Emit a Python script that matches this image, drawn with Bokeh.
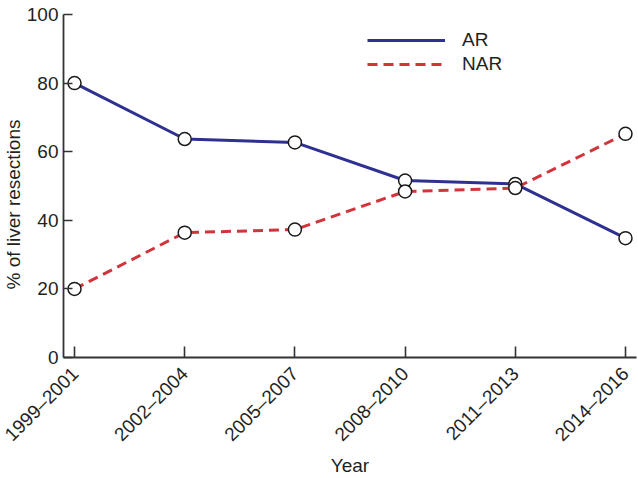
import math
from bokeh.plotting import figure
from bokeh.models import (Range1d, FixedTicker, Legend, LegendItem, Title)
from bokeh.embed import file_html
from bokeh.resources import INLINE

# ---- data ----
periods = ["1999–2001", "2002–2004", "2005–2007", "2008–2010", "2011–2013", "2014–2016"]
ar_values = [80.0, 63.7, 62.7, 51.6, 50.6, 34.8]
nar_values = [20.0, 36.4, 37.3, 48.4, 49.4, 65.2]
y_ticks = [0, 20, 40, 60, 80, 100]

x_pos = list(range(len(periods)))

FONT = "Liberation Sans"
TXT = "#231f20"
AXC = "#333333"
BLUE = "#2e3192"
RED = "#d2343c"

p = figure(width=638, height=478, output_backend="svg", toolbar_location=None,
           x_range=Range1d(-0.1, 5.1), y_range=Range1d(0, 100),
           min_border_left=40, min_border_right=2, min_border_top=14,
           min_border_bottom=110)
p.outline_line_color = None
p.grid.visible = False
p.background_fill_color = "white"

ar_line = p.line(x_pos, ar_values, line_color=BLUE, line_width=3)
nar_line = p.line(x_pos, nar_values, line_color=RED, line_width=3, line_dash="10 6")
p.scatter(x_pos, ar_values, size=13, fill_color="white", line_color="#1a1a1a", line_width=1.5)
p.scatter(x_pos, nar_values, size=13, fill_color="white", line_color="#1a1a1a", line_width=1.5)

# axes
for ax in (p.xaxis[0], p.yaxis[0]):
    ax.axis_line_color = AXC
    ax.axis_line_width = 1.8
    ax.major_tick_line_color = AXC
    ax.major_tick_line_width = 1.6
    ax.major_tick_out = 0
    ax.minor_tick_line_color = None
    ax.major_label_text_font = FONT
    ax.major_label_text_font_size = "19px"
    ax.major_label_text_color = TXT
    ax.axis_label_text_font = FONT
    ax.axis_label_text_font_size = "19px"
    ax.axis_label_text_font_style = "normal"
    ax.axis_label_text_color = TXT

p.xaxis.ticker = FixedTicker(ticks=x_pos)
p.xaxis.major_label_overrides = {i: s for i, s in zip(x_pos, periods)}
p.xaxis.major_label_orientation = math.pi / 4
p.xaxis.major_tick_in = 11
p.xaxis.major_label_standoff = 13
p.xaxis.axis_label = "Year"
p.xaxis.axis_label_standoff = -1

p.yaxis.ticker = FixedTicker(ticks=y_ticks)
p.yaxis.major_tick_in = 9
p.yaxis.major_label_standoff = 5

ytitle = Title(text="% of liver resections", align="left", offset=68,
               text_font=FONT, text_font_size="19px", text_font_style="normal",
               text_color=TXT, standoff=0)
p.add_layout(ytitle, "left")

legend = Legend(items=[LegendItem(label="AR", renderers=[ar_line]),
                       LegendItem(label="NAR", renderers=[nar_line])],
                location=(304, 281), orientation="vertical",
                glyph_width=78, glyph_height=24, label_height=24,
                label_standoff=17, spacing=0, padding=0, margin=0,
                border_line_color=None, background_fill_alpha=0,
                label_text_font=FONT, label_text_font_size="19px",
                label_text_color=TXT)
p.add_layout(legend)

open("out.html", "w").write(file_html(p, INLINE))
